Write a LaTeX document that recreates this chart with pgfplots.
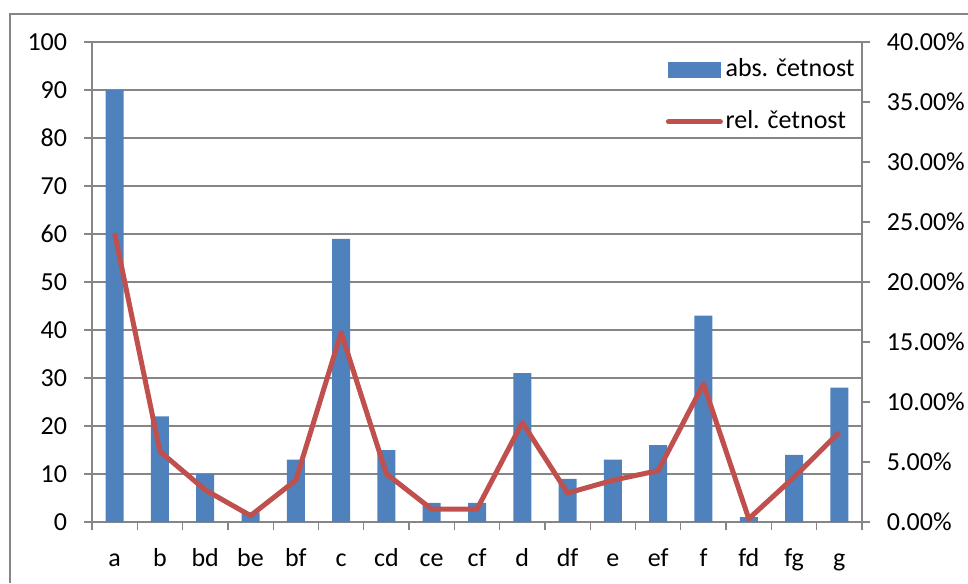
\documentclass[border=0pt]{standalone}
\usepackage{fontspec}
\setmainfont{Carlito}
\usepackage{pgfplots}
\pgfplotsset{compat=1.18}
\definecolor{barblue}{RGB}{79,129,189}
\definecolor{linered}{RGB}{192,80,77}
\definecolor{gridgray}{RGB}{134,134,134}
\pgfplotsset{/pgf/number format/assume math mode=true}
\begin{document}
\fontsize{19.5}{23}\selectfont
\begin{tikzpicture}
\useasboundingbox (-69pt,-45.75pt) rectangle (657pt,391.5pt);
\draw[gridgray, line width=1.2pt] (-61.5pt,-45.75pt) -- (-61.5pt,381pt) -- (657pt,381pt);
\begin{axis}[
  at={(0,0)}, anchor=south west,
  scale only axis, width=577.5pt, height=360pt,
  xmin=-0.5, xmax=16.5, ymin=0, ymax=100,
  xtick={0,...,16},
  xticklabels={a,b,bd,be,bf,c,cd,ce,cf,d,df,e,ef,f,fd,fg,g},
  minor xtick={-0.5,0.5,...,16.5},
  major x tick style={draw=none},
  ytick={0,10,...,100},
  axis x line*=bottom, axis y line*=left,
  axis line style={gridgray, line width=1pt},
  ymajorgrids, grid style={gridgray, line width=1pt},
  tick align=outside, major tick length=6pt, minor tick length=6pt,
  tick style={gridgray, line width=1pt},
  ticklabel style={font=\fontsize{19.5}{23}\selectfont, text=black},
  yticklabel style={xshift=-6pt},
  xticklabel style={yshift=-8pt, text height=13pt, text depth=4pt},
  ybar, bar width=13.5pt,
]
\addplot[fill=barblue, draw=none] coordinates {
(0,90) (1,22) (2,10) (3,2) (4,13) (5,59) (6,15) (7,4) (8,4)
(9,31) (10,9) (11,13) (12,16) (13,43) (14,1) (15,14) (16,28)};
\end{axis}
\begin{axis}[
  at={(0,0)}, anchor=south west,
  scale only axis, width=577.5pt, height=360pt,
  xmin=-0.5, xmax=16.5, ymin=0, ymax=40,
  axis x line=none, axis y line*=right,
  axis line style={gridgray, line width=1pt},
  ytick={0,5,...,40},
  yticklabel={\pgfmathprintnumber[fixed,fixed zerofill,precision=2]{\tick}\%},
  tick align=outside, major tick length=6pt,
  tick style={gridgray, line width=1pt},
  ticklabel style={font=\fontsize{19.5}{23}\selectfont, text=black},
  yticklabel style={xshift=6pt},
  legend style={at={(0.745,0.971)}, anchor=north west, draw=none, fill=none,
    font=\fontsize{19.5}{23}\selectfont, row sep=18.5pt, inner sep=0pt},
  legend cell align=left,
]
\addlegendimage{legend image code/.code={\fill[barblue] (0pt,-5.6pt) rectangle (39pt,5.6pt);}}
\addlegendentry{abs. četnost}
\addplot[linered, line width=3.75pt, line join=round, mark=none,
  legend image code/.code={\draw[linered, line width=3.75pt, line cap=round] (0pt,0pt) -- (39pt,0pt);}]
 coordinates {
(0,24.06) (1,5.88) (2,2.67) (3,0.53) (4,3.48) (5,15.78) (6,4.01) (7,1.07) (8,1.07)
(9,8.29) (10,2.41) (11,3.48) (12,4.28) (13,11.50) (14,0.27) (15,3.74) (16,7.49)};
\addlegendentry{rel. četnost}
\end{axis}
\end{tikzpicture}
\end{document}
